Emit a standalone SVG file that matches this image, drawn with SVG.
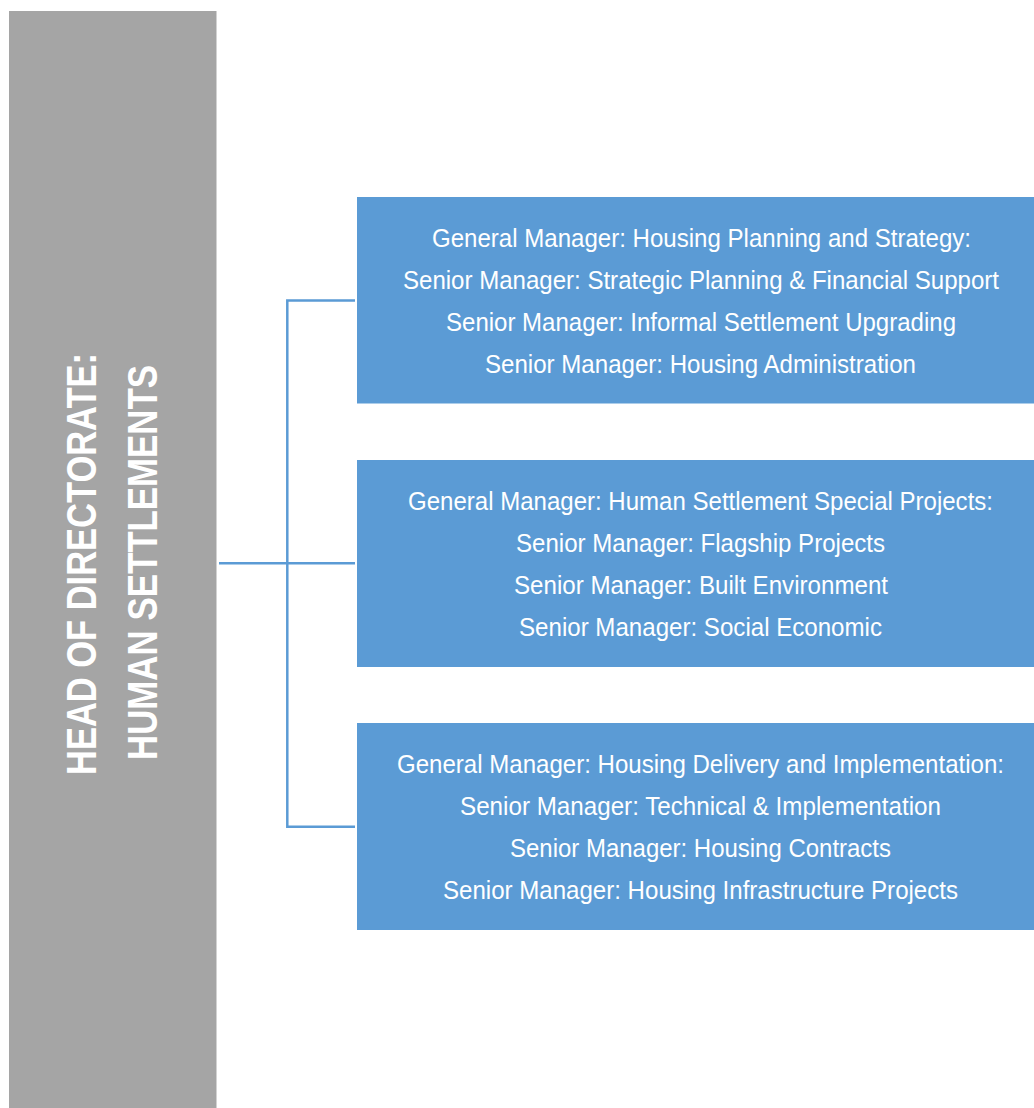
<svg xmlns="http://www.w3.org/2000/svg" width="1034" height="1108" viewBox="0 0 1034 1108">
  <style>
    .conn { stroke: #5b9bd5; stroke-width: 2.5; fill: none; }
    .box { fill: #5b9bd5; }
    .head { fill: #a5a5a5; }
    .t { font-family: "Liberation Sans", Arial, sans-serif; font-size: 26px; fill: #ffffff; text-anchor: middle; }
    .h { font-family: "Liberation Sans", Arial, sans-serif; font-size: 42px; font-weight: bold; fill: #ffffff; text-anchor: middle; }
  </style>
  <rect width="1034" height="1108" fill="#ffffff"/>
  <g id="head">
    <rect class="head" x="9" y="11" width="207.5" height="1097"/>
    <text class="h" transform="translate(96,564) rotate(-90)" textLength="422" lengthAdjust="spacingAndGlyphs">HEAD OF DIRECTORATE:</text>
    <text class="h" transform="translate(157,562.5) rotate(-90)" textLength="395" lengthAdjust="spacingAndGlyphs">HUMAN SETTLEMENTS</text>
  </g>
  <g id="connectors">
    <path class="conn" d="M219 563.3 H355"/>
    <path class="conn" d="M355 300.5 H287.3 V826.7 H355"/>
  </g>
  <g id="gm1">
    <rect class="box" x="357" y="197" width="677" height="206.5"/>
    <text class="t" x="701.5" y="246.5" textLength="539" lengthAdjust="spacingAndGlyphs">General Manager: Housing Planning and Strategy:</text>
    <text class="t" x="701" y="288.5" textLength="596" lengthAdjust="spacingAndGlyphs">Senior Manager: Strategic Planning &amp; Financial Support</text>
    <text class="t" x="701" y="330.5" textLength="510" lengthAdjust="spacingAndGlyphs">Senior Manager: Informal Settlement Upgrading</text>
    <text class="t" x="700.5" y="372.5" textLength="431" lengthAdjust="spacingAndGlyphs">Senior Manager: Housing Administration</text>
  </g>
  <g id="gm2">
    <rect class="box" x="357" y="460" width="677" height="207"/>
    <text class="t" x="700.5" y="509.5" textLength="585" lengthAdjust="spacingAndGlyphs">General Manager: Human Settlement Special Projects:</text>
    <text class="t" x="700.5" y="551.5" textLength="369" lengthAdjust="spacingAndGlyphs">Senior Manager: Flagship Projects</text>
    <text class="t" x="701" y="593.5" textLength="374" lengthAdjust="spacingAndGlyphs">Senior Manager: Built Environment</text>
    <text class="t" x="700.5" y="635.5" textLength="363" lengthAdjust="spacingAndGlyphs">Senior Manager: Social Economic</text>
  </g>
  <g id="gm3">
    <rect class="box" x="357" y="723" width="677" height="207"/>
    <text class="t" x="700.5" y="772.5" textLength="607" lengthAdjust="spacingAndGlyphs">General Manager: Housing Delivery and Implementation:</text>
    <text class="t" x="700.5" y="814.5" textLength="481" lengthAdjust="spacingAndGlyphs">Senior Manager: Technical &amp; Implementation</text>
    <text class="t" x="700.5" y="856.5" textLength="381" lengthAdjust="spacingAndGlyphs">Senior Manager: Housing Contracts</text>
    <text class="t" x="700.5" y="898.5" textLength="515" lengthAdjust="spacingAndGlyphs">Senior Manager: Housing Infrastructure Projects</text>
  </g>
</svg>
